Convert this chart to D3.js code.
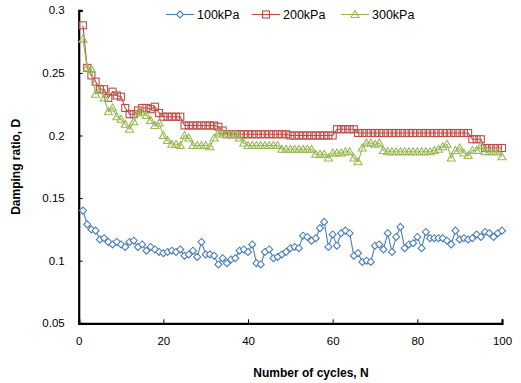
<!DOCTYPE html>
<html>
<head>
<meta charset="utf-8">
<script src="https://cdn.jsdelivr.net/npm/d3@7"></script>
<style>
  body { margin: 0; background: #fff; }
  text { font-family: "Liberation Sans", Arial, sans-serif; }
</style>
</head>
<body>
<div id="chart"></div>
<script>
// number of cycles N = 1..100
const cycles = d3.range(1, 101);

const series100 = [
  0.140, 0.129, 0.125, 0.124, 0.117, 0.118, 0.115, 0.113, 0.115, 0.113,
  0.111, 0.115, 0.116, 0.111, 0.113, 0.108, 0.111, 0.109, 0.107, 0.106,
  0.107, 0.108, 0.107, 0.109, 0.104, 0.105, 0.108, 0.103, 0.115, 0.105,
  0.105, 0.104, 0.097, 0.102, 0.098, 0.101, 0.102, 0.108, 0.109, 0.107,
  0.113, 0.098, 0.097, 0.107, 0.109, 0.102, 0.103, 0.105, 0.107, 0.110,
  0.111, 0.110, 0.120, 0.119, 0.116, 0.118, 0.126, 0.131, 0.111, 0.121,
  0.112, 0.122, 0.124, 0.122, 0.104, 0.106, 0.099, 0.100, 0.099, 0.112,
  0.113, 0.109, 0.122, 0.107, 0.119, 0.127, 0.110, 0.113, 0.114, 0.119,
  0.110, 0.123, 0.118, 0.118, 0.118, 0.118, 0.116, 0.113, 0.124, 0.117,
  0.118, 0.117, 0.118, 0.121, 0.119, 0.123, 0.122, 0.119, 0.122, 0.124
];

const series200 = [
  0.288, 0.254, 0.248, 0.243, 0.237, 0.237, 0.230, 0.235, 0.232, 0.231,
  0.222, 0.217, 0.217, 0.220, 0.222, 0.222, 0.221, 0.223, 0.218, 0.215,
  0.215, 0.215, 0.215, 0.215, 0.208, 0.208, 0.208, 0.208, 0.208, 0.208,
  0.208, 0.208, 0.207, 0.204, 0.201, 0.201, 0.201, 0.201, 0.201, 0.201,
  0.201, 0.201, 0.201, 0.201, 0.201, 0.201, 0.201, 0.201, 0.201, 0.200,
  0.200, 0.200, 0.200, 0.200, 0.200, 0.200, 0.200, 0.200, 0.200, 0.200,
  0.205, 0.205, 0.205, 0.205, 0.205, 0.202, 0.202, 0.202, 0.202, 0.202,
  0.202, 0.202, 0.202, 0.202, 0.202, 0.202, 0.202, 0.202, 0.202, 0.202,
  0.202, 0.202, 0.202, 0.202, 0.202, 0.202, 0.202, 0.202, 0.202, 0.202,
  0.202, 0.202, 0.197, 0.197, 0.197, 0.190, 0.190, 0.190, 0.190, 0.190
];

const series300 = [
  0.277, 0.254, 0.253, 0.233, 0.236, 0.230, 0.219, 0.222, 0.215, 0.213,
  0.209, 0.205, 0.211, 0.218, 0.219, 0.216, 0.212, 0.208, 0.210, 0.200,
  0.196, 0.193, 0.193, 0.192, 0.200, 0.198, 0.192, 0.192, 0.192, 0.192,
  0.191, 0.198, 0.202, 0.201, 0.201, 0.201, 0.201, 0.198, 0.194, 0.192,
  0.192, 0.192, 0.192, 0.192, 0.192, 0.192, 0.192, 0.189, 0.189, 0.189,
  0.189, 0.189, 0.189, 0.189, 0.189, 0.185, 0.185, 0.185, 0.182, 0.186,
  0.186, 0.186, 0.187, 0.187, 0.182, 0.179, 0.190, 0.194, 0.194, 0.193,
  0.194, 0.188, 0.187, 0.187, 0.187, 0.187, 0.187, 0.187, 0.187, 0.187,
  0.187, 0.187, 0.187, 0.188, 0.189, 0.191, 0.193, 0.182, 0.188, 0.190,
  0.186, 0.184, 0.188, 0.188, 0.192, 0.187, 0.187, 0.187, 0.187, 0.183
];

const seriesNames = ["100kPa", "200kPa", "300kPa"];
const xTicks = [0, 20, 40, 60, 80, 100];
const yTicks = [0.05, 0.1, 0.15, 0.2, 0.25, 0.3];

const width = 521, height = 383;
const plotLeft = 78.7, plotRight = 502, plotTop = 10.3, plotBottom = 323.3;

const svg = d3.select("#chart").append("svg")
  .attr("width", width)
  .attr("height", height);

const x = d3.scaleLinear().domain([0, 100]).range([plotLeft, plotRight]);
const y = d3.scaleLinear().domain([0.05, 0.3]).range([plotBottom, plotTop]);

const colors = ["#4A7EBB", "#BE4B48", "#98B954"];
const allSeries = [series100, series200, series300];

// axes (only left and bottom lines, ticks pointing inward)
const yAxis = svg.append("g")
  .attr("transform", `translate(${plotLeft},0)`)
  .call(d3.axisLeft(y).tickValues(yTicks).tickSize(-4).tickPadding(14)
    .tickFormat(d => String(+d.toFixed(2))));
const xAxis = svg.append("g")
  .attr("transform", `translate(0,${plotBottom})`)
  .call(d3.axisBottom(x).tickValues(xTicks).tickSize(-4).tickPadding(14));

[xAxis, yAxis].forEach(a => {
  a.select(".domain").attr("stroke", "#000").attr("stroke-width", 2.2);
  a.selectAll(".tick line").attr("stroke", "#000").attr("stroke-width", 1);
  a.selectAll("text").attr("font-size", 11.5).attr("fill", "#000")
    .attr("font-family", "Liberation Sans, Arial, sans-serif");
});

// marker shapes
function drawMarker(g, i, cx, cy) {
  if (i === 0) {
    g.append("path")
      .attr("d", `M${cx},${cy - 3.5}L${cx + 3.5},${cy}L${cx},${cy + 3.5}L${cx - 3.5},${cy}Z`)
      .attr("fill", "#fff").attr("stroke", colors[i]).attr("stroke-width", 1.1);
  } else if (i === 1) {
    g.append("rect")
      .attr("x", cx - 3.5).attr("y", cy - 3.5).attr("width", 7).attr("height", 7)
      .attr("fill", "none").attr("stroke", colors[i]).attr("stroke-width", 1.1);
  } else {
    g.append("path")
      .attr("d", `M${cx},${cy - 4}L${cx + 4},${cy + 3}L${cx - 4},${cy + 3}Z`)
      .attr("fill", "none").attr("stroke", colors[i]).attr("stroke-width", 1.1);
  }
}

const line = d3.line()
  .x((d, j) => x(cycles[j]))
  .y(d => y(d));

allSeries.forEach((vals, i) => {
  const g = svg.append("g");
  g.append("path")
    .attr("d", line(vals))
    .attr("fill", "none")
    .attr("stroke", colors[i])
    .attr("stroke-width", 1.1);
  vals.forEach((v, j) => drawMarker(g, i, x(cycles[j]), y(v)));
});

// legend
const legendX = [166, 252, 341];
seriesNames.forEach((name, i) => {
  const g = svg.append("g");
  const ly = 14.5;
  g.append("line")
    .attr("x1", legendX[i]).attr("x2", legendX[i] + 28)
    .attr("y1", ly).attr("y2", ly)
    .attr("stroke", colors[i]).attr("stroke-width", 1.1);
  drawMarker(g, i, legendX[i] + 14, ly);
  g.append("text")
    .attr("x", legendX[i] + 31).attr("y", ly + 4.5)
    .attr("font-size", 12.5)
    .text(name);
});

// axis titles
svg.append("text")
  .attr("x", 311).attr("y", 377)
  .attr("text-anchor", "middle")
  .attr("font-size", 12).attr("font-weight", "bold")
  .text("Number of cycles,  N");

svg.append("text")
  .attr("transform", `translate(20,${(plotTop + plotBottom) / 2}) rotate(-90)`)
  .attr("text-anchor", "middle")
  .attr("font-size", 12).attr("font-weight", "bold")
  .text("Damping ratio, D");
</script>
</body>
</html>
